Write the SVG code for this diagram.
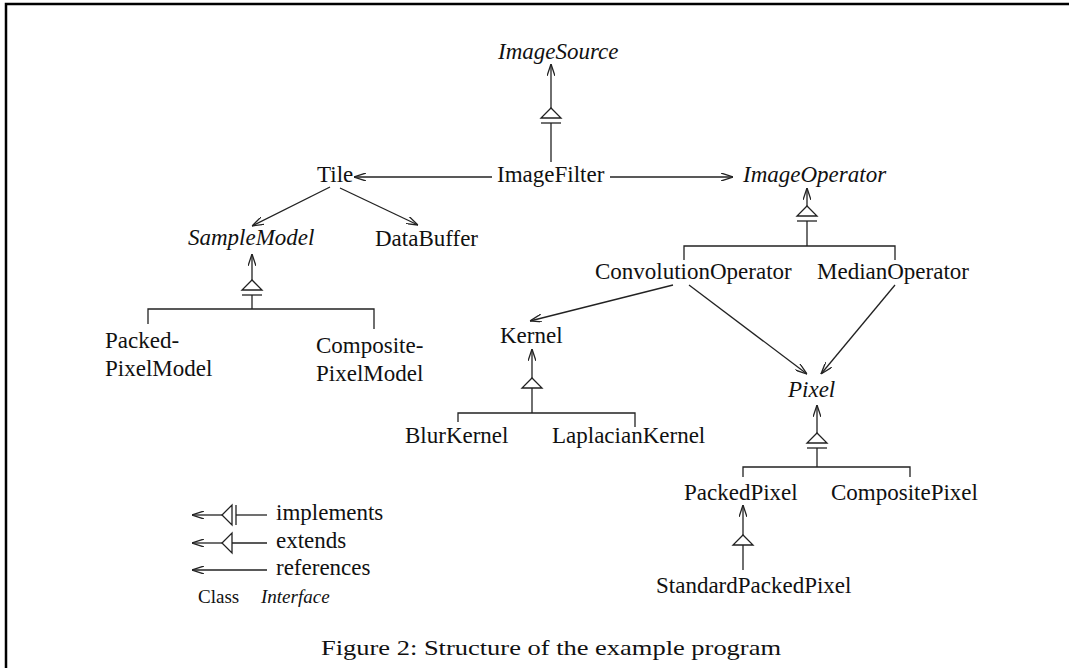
<svg xmlns="http://www.w3.org/2000/svg" width="1069" height="668" viewBox="0 0 1069 668">
<style>
.t{font-family:"Liberation Serif","Times New Roman",serif;font-size:23px;fill:#111}
.i{font-style:italic}
.s{font-size:19px}
.c{font-family:"Liberation Serif","Times New Roman",serif;font-size:22px;fill:#111}
.ln{stroke:#222;stroke-width:1.3;fill:none}
.ar{stroke:#222;stroke-width:1.3;fill:none;marker-end:url(#oa)}
.tri{stroke:#222;stroke-width:1.3;fill:#fff}
</style>
<defs>
<marker id="oa" viewBox="0 0 12 8" refX="12" refY="4" markerWidth="12" markerHeight="8" markerUnits="userSpaceOnUse" orient="auto">
<path d="M0,0 L12,4 L0,8" fill="none" stroke="#222" stroke-width="1.3"/>
</marker>
</defs>
<rect width="1069" height="668" fill="#fff"/>
<path d="M6,668 V4 H1069" fill="none" stroke="#000" stroke-width="2.5"/>

<g id="connectors">
<line class="ln" x1="551" y1="162" x2="551" y2="123"/>
<line class="ln" x1="541" y1="123" x2="561" y2="123"/>
<polygon class="tri" points="541,118 561,118 551,108"/>
<line class="ar" x1="551" y1="108" x2="551" y2="64"/>
<line class="ar" x1="492" y1="177" x2="354" y2="177"/>
<line class="ar" x1="610" y1="177" x2="733" y2="177"/>
<line class="ar" x1="330" y1="187" x2="252" y2="226"/>
<line class="ar" x1="340" y1="188" x2="418" y2="225"/>
<polyline class="ln" points="148,324 148,309 374,309 374,329"/>
<line class="ln" x1="252" y1="309" x2="252" y2="295"/>
<line class="ln" x1="242" y1="295" x2="262" y2="295"/>
<polygon class="tri" points="242,290 262,290 252,280"/>
<line class="ar" x1="252" y1="280" x2="252" y2="254"/>
<polyline class="ln" points="684,260 684,246 895,246 895,260"/>
<line class="ln" x1="807" y1="246" x2="807" y2="221"/>
<line class="ln" x1="797" y1="221" x2="817" y2="221"/>
<polygon class="tri" points="797,216 817,216 807,206"/>
<line class="ar" x1="807" y1="206" x2="807" y2="188"/>
<line class="ar" x1="673" y1="285" x2="530" y2="321"/>
<line class="ar" x1="689" y1="285" x2="807" y2="374"/>
<line class="ar" x1="895" y1="285" x2="821" y2="374"/>
<polyline class="ln" points="458,422 458,413 635,413 635,427"/>
<line class="ln" x1="532" y1="413" x2="532" y2="388"/>
<polygon class="tri" points="522,388 542,388 532,378"/>
<line class="ar" x1="532" y1="378" x2="532" y2="349"/>
<polyline class="ln" points="743,477 743,467 910,467 910,477"/>
<line class="ln" x1="817" y1="467" x2="817" y2="448"/>
<line class="ln" x1="807" y1="448" x2="827" y2="448"/>
<polygon class="tri" points="807,443 827,443 817,433"/>
<line class="ar" x1="817" y1="433" x2="817" y2="405"/>
<line class="ln" x1="743" y1="570" x2="743" y2="545"/>
<polygon class="tri" points="733,545 753,545 743,535"/>
<line class="ar" x1="743" y1="535" x2="743" y2="505"/>
</g>

<g id="ImageSource"><text class="t i" x="498" y="59">ImageSource</text></g>
<g id="ImageFilter"><text class="t" x="497" y="182">ImageFilter</text></g>
<g id="Tile"><text class="t" x="317" y="182">Tile</text></g>
<g id="ImageOperator"><text class="t i" x="743" y="182">ImageOperator</text></g>
<g id="SampleModel"><text class="t i" x="188" y="245">SampleModel</text></g>
<g id="DataBuffer"><text class="t" x="375" y="246">DataBuffer</text></g>
<g id="ConvolutionOperator"><text class="t" x="595" y="279">ConvolutionOperator</text></g>
<g id="MedianOperator"><text class="t" x="817" y="279">MedianOperator</text></g>
<g id="PackedPixelModel"><text class="t" x="105" y="348">Packed-</text><text class="t" x="105" y="376">PixelModel</text></g>
<g id="CompositePixelModel"><text class="t" x="316" y="353">Composite-</text><text class="t" x="316" y="381">PixelModel</text></g>
<g id="Kernel"><text class="t" x="500" y="343">Kernel</text></g>
<g id="Pixel"><text class="t i" x="788" y="397">Pixel</text></g>
<g id="BlurKernel"><text class="t" x="405" y="443">BlurKernel</text></g>
<g id="LaplacianKernel"><text class="t" x="552" y="443">LaplacianKernel</text></g>
<g id="PackedPixel"><text class="t" x="684" y="500">PackedPixel</text></g>
<g id="CompositePixel"><text class="t" x="831" y="500">CompositePixel</text></g>
<g id="StandardPackedPixel"><text class="t" x="656" y="593">StandardPackedPixel</text></g>

<g id="legend">
<line class="ln" x1="267" y1="515" x2="236" y2="515"/>
<line class="ln" x1="236" y1="505" x2="236" y2="525"/>
<polygon class="tri" points="232,505 232,525 222,515"/>
<line class="ar" x1="222" y1="515" x2="192" y2="515"/>
<text class="t" x="276" y="520">implements</text>
<line class="ln" x1="267" y1="543" x2="232" y2="543"/>
<polygon class="tri" points="232,533 232,553 222,543"/>
<line class="ar" x1="222" y1="543" x2="192" y2="543"/>
<text class="t" x="276" y="548">extends</text>
<line class="ar" x1="267" y1="570" x2="192" y2="570"/>
<text class="t" x="276" y="575">references</text>
<text class="t s" x="198" y="603">Class</text>
<text class="t s i" x="261" y="603">Interface</text>
</g>

<g id="caption"><text class="c" x="321" y="655" textLength="460" lengthAdjust="spacingAndGlyphs">Figure 2: Structure of the example program</text></g>
</svg>
